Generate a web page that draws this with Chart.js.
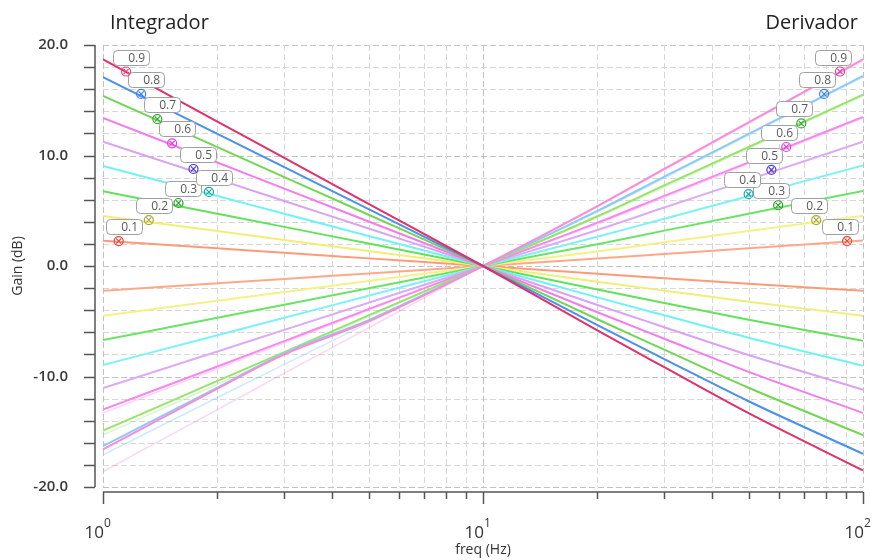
<!DOCTYPE html>
<html>
<head>
<meta charset="utf-8">
<script src="https://cdn.jsdelivr.net/npm/chart.js@4.4.0/dist/chart.umd.min.js"></script>
<style>
  html, body { margin: 0; padding: 0; background: #fff; }
  #wrap { width: 877px; height: 560px; position: relative; }
</style>
</head>
<body>
<div id="wrap"><canvas id="gainChart" width="877" height="560"></canvas></div>
<script>
// frequencies where each gain curve was sampled (Hz)
const freqs = [1, 2, 3, 5, 10, 20, 30, 50, 100];
const orders = ['0.1', '0.2', '0.3', '0.4', '0.5', '0.6', '0.7', '0.8', '0.9'];

// integrator s^-a, gain in dB
const integratorGain = [
  [2.29, 1.60, 1.20, 0.69, 0, -0.70, -1.10, -1.61, -2.23],
  [4.52, 3.16, 2.36, 1.36, 0, -1.42, -2.23, -3.24, -4.50],
  [6.76, 4.73, 3.54, 2.03, 0, -2.13, -3.35, -4.87, -6.76],
  [9.05, 6.33, 4.73, 2.72, 0, -2.84, -4.46, -6.49, -9.02],
  [11.25, 7.86, 5.88, 3.39, 0, -3.53, -5.54, -8.06, -11.2],
  [13.4, 9.37, 7.00, 4.03, 0, -4.19, -6.58, -9.58, -13.3],
  [15.4, 10.76, 8.05, 4.64, 0, -4.82, -7.57, -11.02, -15.3],
  [17.1, 11.95, 8.94, 5.15, 0, -5.36, -8.42, -12.24, -17.0],
  [18.7, 13.07, 9.78, 5.63, 0, -5.83, -9.16, -13.32, -18.5]
];

// derivator s^a, gain in dB
const derivatorGain = [
  [-2.23, -1.56, -1.17, -0.67, 0, 0.67, 1.08, 1.60, 2.30],
  [-4.50, -3.15, -2.35, -1.35, 0, 1.32, 2.14, 3.16, 4.55],
  [-6.70, -4.69, -3.50, -2.01, 0, 1.97, 3.20, 4.73, 6.80],
  [-8.96, -6.27, -4.69, -2.69, 0, 2.64, 4.28, 6.32, 9.10],
  [-11.05, -7.74, -5.78, -3.32, 0, 3.26, 5.29, 7.82, 11.25],
  [-13.0, -9.10, -6.80, -3.90, 0, 3.92, 6.35, 9.38, 13.5],
  [-14.9, -10.4, -7.79, -4.47, 0, 4.50, 7.29, 10.77, 15.5],
  [-16.3, -11.0, -7.90, -4.90, 0, 4.99, 8.08, 11.95, 17.2],
  [-16.6, -11.1, -8.00, -5.00, 0, 5.42, 8.79, 13.0, 18.7]
];

// faint reference derivators for the higher orders
const refOrders = ['0.6', '0.7', '0.8', '0.9'];
const refDerivGain = [
  [-13.3, -9.30, -6.95, -4.00, 0, 3.80, 6.20, 9.25, 13.4],
  [-15.3, -10.7, -8.00, -4.60, 0, 4.40, 7.15, 10.65, 15.4],
  [-17.1, -11.9, -8.90, -5.15, 0, 4.90, 7.95, 11.85, 17.1],
  [-18.6, -13.0, -9.70, -5.60, 0, 5.35, 8.70, 12.9, 18.6]
];

// labelled marker on each curve
const intMarkFreq = [1.10, 1.32, 1.58, 1.90, 1.73, 1.52, 1.39, 1.26, 1.15];
const intMarkGain = [2.26, 4.16, 5.70, 6.70, 8.78, 11.1, 13.3, 15.57, 17.6];
const derMarkFreq = [90.8, 75.3, 59.8, 50.0, 57.4, 62.8, 68.8, 79.0, 87.0];
const derMarkGain = [2.26, 4.16, 5.50, 6.50, 8.70, 10.77, 12.9, 15.57, 17.6];

// grid and ticks
const gridFreqs = [1, 2, 3, 4, 5, 6, 7, 8, 9, 10, 20, 30, 40, 50, 60, 70, 80, 90, 100];
const gridGains = [-20, -18, -16, -14, -12, -10, -8, -6, -4, -2, 0, 2, 4, 6, 8, 10, 12, 14, 16, 18, 20];
const gainLabels = [-20, -10, 0, 10, 20];
const decades = [1, 10, 100];
const decadeExp = ['0', '1', '2'];

const intColors = ['#ff9a78', '#f2ee74', '#62e25a', '#6ff2f4', '#d9a2f4', '#f47cec', '#72d652', '#4b90ea', '#e0306e'];
const derColors = ['#ffa888', '#f4f286', '#6ae464', '#7cf2f6', '#dcaaf6', '#f688ee', '#96e46a', '#8ccaf6', '#f98bd8'];
const refColors = ['rgba(246,136,238,0.35)', 'rgba(150,228,106,0.35)', 'rgba(140,202,246,0.4)', 'rgba(249,139,216,0.35)'];
const intMarkColors = ['#e8483a', '#a8a83a', '#2e9c2e', '#20a4a4', '#4a3ae0', '#e040e0', '#3aa83a', '#3a7fe8', '#e8457a'];
const derMarkColors = ['#e8483a', '#a8a83a', '#2e9c2e', '#20a4a4', '#5a3ae0', '#e040e0', '#3aa83a', '#3a7fe8', '#e0409a'];

const FONT = '"Open Sans", "DejaVu Sans", sans-serif';

function toPoints(gains) {
  return freqs.map((f, i) => ({ x: f, y: gains[i] }));
}

const datasets = [];
for (let i = orders.length - 1; i >= 0; i--) {
  datasets.push({ label: 'int ' + orders[i], data: toPoints(integratorGain[i]), borderColor: intColors[i], borderWidth: 2 });
}
for (let i = orders.length - 1; i >= 0; i--) {
  datasets.push({ label: 'der ' + orders[i], data: toPoints(derivatorGain[i]), borderColor: derColors[i], borderWidth: 2 });
}
refOrders.forEach((o, i) => {
  datasets.push({ label: 'ref ' + o, data: toPoints(refDerivGain[i]), borderColor: refColors[i], borderWidth: 1.5 });
});

// dashed grid behind the curves
const gridPlugin = {
  id: 'dashGrid',
  beforeDatasetsDraw(chart) {
    const { ctx, chartArea: a, scales: { x, y } } = chart;
    ctx.save();
    ctx.lineWidth = 1;
    ctx.setLineDash([6, 3]);
    gridGains.forEach(g => {
      const py = Math.round(y.getPixelForValue(g)) + 0.5;
      ctx.strokeStyle = g % 10 === 0 ? '#c2c2c2' : '#d8d8d8';
      ctx.beginPath(); ctx.moveTo(a.left, py); ctx.lineTo(a.right, py); ctx.stroke();
    });
    gridFreqs.forEach(f => {
      const px = Math.round(x.getPixelForValue(f)) + 0.5;
      ctx.strokeStyle = decades.includes(f) ? '#c2c2c2' : '#d8d8d8';
      ctx.beginPath(); ctx.moveTo(px, a.top); ctx.lineTo(px, a.bottom); ctx.stroke();
    });
    ctx.restore();
  }
};

function roundRect(ctx, x0, y0, w, h, r) {
  ctx.beginPath();
  ctx.moveTo(x0 + r, y0);
  ctx.arcTo(x0 + w, y0, x0 + w, y0 + h, r);
  ctx.arcTo(x0 + w, y0 + h, x0, y0 + h, r);
  ctx.arcTo(x0, y0 + h, x0, y0, r);
  ctx.arcTo(x0, y0, x0 + w, y0, r);
  ctx.closePath();
}

function drawMarker(ctx, px, py, color, text, dx) {
  // label box above the marker
  const bx = Math.round(px + dx), by = Math.round(py - 22), bw = 36, bh = 15;
  roundRect(ctx, bx + 0.5, by + 0.5, bw, bh, 4);
  ctx.fillStyle = '#fff';
  ctx.fill();
  ctx.strokeStyle = '#a0a0a0';
  ctx.lineWidth = 1;
  ctx.stroke();
  ctx.fillStyle = '#5a5a5a';
  ctx.font = '12px ' + FONT;
  ctx.textAlign = 'right';
  ctx.textBaseline = 'middle';
  ctx.fillText(text, bx + bw - 4, by + bh / 2 + 1);
  // circle with a cross
  ctx.strokeStyle = color;
  ctx.lineWidth = 1.2;
  ctx.beginPath(); ctx.arc(px, py, 4.5, 0, Math.PI * 2); ctx.stroke();
  ctx.beginPath();
  ctx.moveTo(px - 2.6, py - 2.6); ctx.lineTo(px + 2.6, py + 2.6);
  ctx.moveTo(px + 2.6, py - 2.6); ctx.lineTo(px - 2.6, py + 2.6);
  ctx.stroke();
}

const markerPlugin = {
  id: 'orderMarkers',
  afterDatasetsDraw(chart) {
    const { ctx, scales: { x, y } } = chart;
    ctx.save();
    orders.forEach((o, i) => {
      drawMarker(ctx, x.getPixelForValue(intMarkFreq[i]), y.getPixelForValue(intMarkGain[i]), intMarkColors[i], o, -13);
      drawMarker(ctx, x.getPixelForValue(derMarkFreq[i]), y.getPixelForValue(derMarkGain[i]), derMarkColors[i], o, -25);
    });
    ctx.restore();
  }
};

// axes drawn slightly apart from the plot frame
const axesPlugin = {
  id: 'sideAxes',
  afterDraw(chart) {
    const { ctx, chartArea: a, scales: { x, y } } = chart;
    ctx.save();
    ctx.strokeStyle = '#555';
    ctx.lineWidth = 1.5;
    const ax = a.left - 8;
    ctx.beginPath(); ctx.moveTo(ax, a.top); ctx.lineTo(ax, a.bottom); ctx.stroke();
    gridGains.forEach(g => {
      const py = Math.round(y.getPixelForValue(g)) + 0.5;
      ctx.beginPath(); ctx.moveTo(ax, py); ctx.lineTo(ax - 11, py); ctx.stroke();
    });
    ctx.fillStyle = '#3a3a3a';
    ctx.font = '600 15px ' + FONT;
    ctx.textAlign = 'right';
    ctx.textBaseline = 'middle';
    gainLabels.forEach(g => {
      ctx.fillText(g.toFixed(1), a.left - 35, y.getPixelForValue(g));
    });

    const ay = a.bottom + 5;
    ctx.beginPath(); ctx.moveTo(a.left, ay); ctx.lineTo(a.right, ay); ctx.stroke();
    gridFreqs.forEach(f => {
      const px = Math.round(x.getPixelForValue(f)) + 0.5;
      const len = decades.includes(f) ? 12 : 7;
      ctx.beginPath(); ctx.moveTo(px, ay); ctx.lineTo(px, ay + len); ctx.stroke();
    });
    ctx.fillStyle = '#333';
    decades.forEach((f, i) => {
      const px = x.getPixelForValue(f);
      ctx.textAlign = 'right';
      ctx.textBaseline = 'alphabetic';
      ctx.font = '17px ' + FONT;
      ctx.fillText('10', px + 1, 538);
      ctx.textAlign = 'left';
      ctx.font = '12px ' + FONT;
      ctx.fillText(decadeExp[i], px + 1, 527);
    });

    ctx.font = '14px ' + FONT;
    ctx.textAlign = 'center';
    ctx.textBaseline = 'alphabetic';
    ctx.fillText('freq (Hz)', (a.left + a.right) / 2, 554);
    ctx.save();
    ctx.translate(22, (a.top + a.bottom) / 2);
    ctx.rotate(-Math.PI / 2);
    ctx.fillText('Gain (dB)', 0, 0);
    ctx.restore();

    ctx.fillStyle = '#222';
    ctx.font = '20px ' + FONT;
    ctx.textAlign = 'left';
    ctx.fillText('Integrador', 110, 29);
    ctx.textAlign = 'right';
    ctx.fillText('Derivador', 858, 29);
    ctx.restore();
  }
};

new Chart(document.getElementById('gainChart').getContext('2d'), {
  type: 'line',
  data: { datasets: datasets },
  options: {
    responsive: false,
    animation: false,
    devicePixelRatio: 1,
    layout: { padding: { left: 103, top: 45, right: 14, bottom: 73 } },
    elements: {
      point: { radius: 0 },
      line: { cubicInterpolationMode: 'monotone', fill: false }
    },
    scales: {
      x: { type: 'logarithmic', min: 1, max: 100, display: false },
      y: { type: 'linear', min: -20, max: 20, display: false }
    },
    plugins: { legend: { display: false }, tooltip: { enabled: false } }
  },
  plugins: [gridPlugin, markerPlugin, axesPlugin]
});
</script>
</body>
</html>
